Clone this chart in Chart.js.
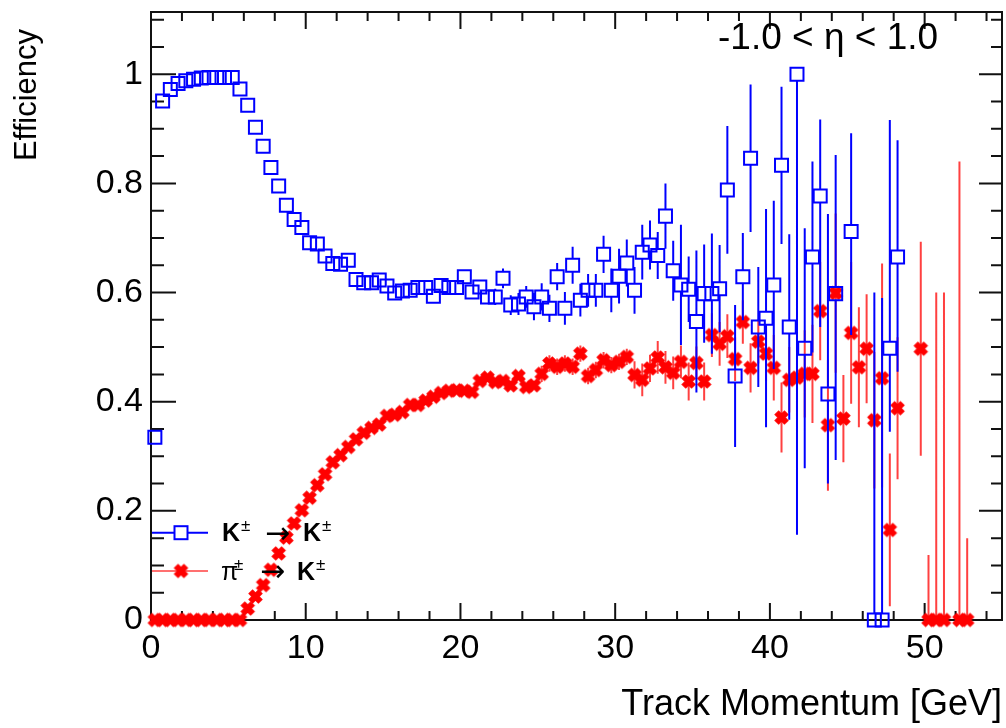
<!DOCTYPE html>
<html><head><meta charset="utf-8">
<script src="https://cdn.jsdelivr.net/npm/chart.js@4.4.0/dist/chart.umd.min.js"></script>
<style>html,body{margin:0;padding:0;background:#fff;}canvas{display:block}</style>
</head><body>
<canvas id="c" width="1006" height="728"></canvas>
<script>
// ---- data ----
const momentum = [
 0.25,0.75,1.25,1.75,2.25,2.75,3.25,3.75,4.25,4.75,
 5.25,5.75,6.25,6.75,7.25,7.75,8.25,8.75,9.25,9.75,
 10.25,10.75,11.25,11.75,12.25,12.75,13.25,13.75,14.25,14.75,
 15.25,15.75,16.25,16.75,17.25,17.75,18.25,18.75,19.25,19.75,
 20.25,20.75,21.25,21.75,22.25,22.75,23.25,23.75,24.25,24.75,
 25.25,25.75,26.25,26.75,27.25,27.75,28.25,28.75,29.25,29.75,
 30.25,30.75,31.25,31.75,32.25,32.75,33.25,33.75,34.25,34.75,
 35.25,35.75,36.25,36.75,37.25,37.75,38.25,38.75,39.25,39.75,
 40.25,40.75,41.25,41.75,42.25,42.75,43.25,43.75,44.25,44.75,
 45.25,45.75,46.25,46.75,47.25,47.75,48.25,48.75,49.25,49.75,
 50.25,50.75,51.25,51.75,52.25,52.75];

const kaonEff = [
 0.335,0.951,0.972,0.983,0.988,0.991,0.993,0.994,0.994,0.994,
 0.994,0.973,0.943,0.903,0.868,0.829,0.795,0.760,0.734,0.719,
 0.691,0.689,0.667,0.653,0.652,0.659,0.624,0.618,0.618,0.623,
 0.612,0.599,0.603,0.604,0.609,0.609,0.593,0.613,0.609,0.609,
 0.629,0.601,0.610,0.592,0.592,0.626,0.577,0.579,0.592,0.574,
 0.592,0.571,0.629,0.571,0.650,0.586,0.604,0.604,0.670,0.604,
 0.630,0.654,0.604,0.674,0.687,0.668,0.740,0.640,0.614,0.606,
 0.547,0.598,0.598,0.607,0.788,0.447,0.629,0.846,0.537,0.553,
 0.614,0.833,0.537,1.000,0.498,0.665,0.777,0.414,0.598,null,
 0.712,null,null,0,0,0.498,0.665];
const kaonErrLo = [
 0,0,0,0,0,0,0,0,0,0, 0,0,0,0,0,0,0,0,0,0, 0,0,0,0,0,0,0,0,0,0,
 0.01,0.01,0.01,0.01,0.01,0.01,0.01,0.01,0.01,0.01, 0.01,0.01,0.01,0.01,
 0.015,0.018,0.018,0.02,0.02,0.025,0.025,0.025,0.025,0.03,
 0.034,0.03,0.03,0.03,0.034,0.04,0.05,0.043,0.043,0.05,
 0.045,0.043,0.06,0.055,0.11,0.06,0.13,0.09,0.11,0.08,
 0.117,0.13,0.08,0.135,0.11,0.2,0.154,0.144,0.17,0.844,
 0.22,0.175,0.24,0.164,0.305,null,0.19,null,null,0,
 0,0.153,0.21];
const kaonErrHi = [
 0,0,0,0,0,0,0,0,0,0, 0,0,0,0,0,0,0,0,0,0, 0,0,0,0,0,0,0,0,0,0,
 0.01,0.01,0.01,0.01,0.01,0.01,0.01,0.01,0.01,0.01, 0.01,0.01,0.01,0.01,
 0.015,0.018,0.018,0.02,0.02,0.025,0.025,0.025,0.025,0.03,
 0.034,0.03,0.03,0.03,0.034,0.04,0.05,0.043,0.043,0.05,
 0.045,0.043,0.06,0.055,0.11,0.06,0.13,0.09,0.11,0.08,
 0.117,0.13,0.08,0.135,0.11,0.2,0.154,0.144,0.17,0,
 0.22,0.175,0.14,0.33,0.254,null,0.18,null,null,0.6,
 0.59,0.418,0.214];

const pionEff = [
 0,0,0,0,0,0,0,0,0,0, 0,0,
 0.021,0.043,0.064,0.092,0.122,0.151,0.177,0.201,
 0.224,0.247,0.267,0.289,0.302,0.317,0.331,0.343,0.352,0.358,
 0.374,0.376,0.381,0.394,0.394,0.402,0.409,0.416,0.420,0.421,
 0.420,0.418,0.438,0.444,0.436,0.438,0.430,0.447,0.427,0.430,
 0.451,0.470,0.464,0.470,0.464,0.488,0.447,0.458,0.476,0.467,
 0.473,0.482,0.449,0.440,0.461,0.481,0.463,0.453,0.473,0.437,
 0.471,0.437,0.522,0.506,0.520,0.478,0.546,0.462,0.510,0.488,
 0.462,0.371,0.440,0.444,0.451,0.451,0.566,0.357,0.599,0.369,
 0.526,0.463,0.497,0.366,0.443,0.165,0.388,null,null,0.497,
 0,0,0,null,0,0];
const pionErrLo = [
 0,0,0,0,0,0,0,0,0,0, 0,0,0,0,0,0,0,0,0,0, 0,0,0,0,0,0,0,0,0,0,
 0,0,0,0,0,0,0,0,0,0, 0,0,0,0,0,0,0,0,0,0,
 0.015,0.015,0.015,0.015,0.015,0.015,0.015,0.015,0.015,0.015,0.015,0.015,
 0.025,0.03,0.025,0.03,0.03,0.03,0.03,0.035,
 0.03,0.035,0.04,0.04,0.04,0.04,0.04,0.045,0.04,0.05,
 0.06,0.064,0.06,0.07,0.08,0.09,0.09,0.12,0.146,0.08,
 0.13,0.11,0.1,0.125,0.2,0.14,0.13,null,null,0.196,
 0,0,0,null,0,0];
const pionErrHi = [
 0,0,0,0,0,0,0,0,0,0, 0,0,0,0,0,0,0,0,0,0, 0,0,0,0,0,0,0,0,0,0,
 0,0,0,0,0,0,0,0,0,0, 0,0,0,0,0,0,0,0,0,0,
 0.015,0.015,0.015,0.015,0.015,0.015,0.015,0.015,0.015,0.015,0.015,0.015,
 0.025,0.03,0.025,0.03,0.03,0.03,0.03,0.035,
 0.03,0.035,0.04,0.04,0.04,0.04,0.04,0.045,0.04,0.05,
 0.06,0.064,0.06,0.07,0.08,0.09,0.09,0.12,0.146,0.08,
 0.13,0.11,0.1,0.125,0.21,0.14,0.13,null,null,0.196,
 0.119,0.6,0.6,null,0.84,0.15];

const xTickValues = [0,10,20,30,40,50];
const yTickValues = [0,0.2,0.4,0.6,0.8,1];
const yTickLabels = ['0','0.2','0.4','0.6','0.8','1'];
const xTitle = 'Track Momentum [GeV]';
const yTitle = 'Efficiency';
const etaText = '-1.0 < \u03B7 < 1.0';

// ---- styles ----
const FONT = "'Liberation Sans', Arial, Helvetica, sans-serif";
const BLUE = '#0000ff';
const RED = '#ff0000';

function makeCross(size, color){
  const c = document.createElement('canvas');
  c.width = size; c.height = size;
  const g = c.getContext('2d');
  g.strokeStyle = color; g.lineWidth = size*0.37; g.lineCap = 'butt';
  const p = size*0.2;
  g.beginPath();
  g.moveTo(p,p); g.lineTo(size-p,size-p);
  g.moveTo(size-p,p); g.lineTo(p,size-p);
  g.stroke();
  return c;
}
const crossImg = makeCross(17, RED);

function toPoints(vals){
  const pts = [];
  vals.forEach((v,i)=>{ if (v !== null) pts.push({x: momentum[i], y: v, i: i}); });
  return pts;
}

const errorSets = [
  {lo: kaonErrLo, hi: kaonErrHi, color: BLUE, width: 2, gap: 6.5},
  {lo: pionErrLo, hi: pionErrHi, color: 'rgba(255,0,0,0.75)', width: 2, gap: 0}
];

const errorBars = {
  id: 'errorBars',
  beforeDatasetDraw(chart, args){
    const es = errorSets[args.index];
    const ds = chart.data.datasets[args.index];
    const xs = chart.scales.x, ys = chart.scales.y;
    const ctx = chart.ctx;
    ctx.save();
    ctx.strokeStyle = es.color; ctx.lineWidth = es.width;
    ctx.beginPath();
    ds.data.forEach(p=>{
      const lo = es.lo[p.i], hi = es.hi[p.i];
      if (lo == null && hi == null) return;
      const px = xs.getPixelForValue(p.x);
      const py = ys.getPixelForValue(p.y);
      const yl = ys.getPixelForValue(p.y - (lo||0));
      const yh = ys.getPixelForValue(p.y + (hi||0));
      if (yl - py > es.gap) { ctx.moveTo(px, py + es.gap); ctx.lineTo(px, yl); }
      if (py - yh > es.gap) { ctx.moveTo(px, py - es.gap); ctx.lineTo(px, yh); }
    });
    ctx.stroke();
    ctx.restore();
  }
};

const rootFrame = {
  id: 'rootFrame',
  beforeDatasetsDraw(chart){
    const {ctx, chartArea: a} = chart;
    const xs = chart.scales.x, ys = chart.scales.y;
    ctx.save();
    ctx.strokeStyle = '#111';
    ctx.lineWidth = 2;
    ctx.strokeRect(a.left, a.top, a.right - a.left, a.bottom - a.top);
    ctx.beginPath();
    for (let s = 0; s <= 27; s++) {
      const v = s*2;
      const px = xs.getPixelForValue(v);
      const L = (v % 10 === 0) ? 17 : 9;
      ctx.moveTo(px, a.bottom); ctx.lineTo(px, a.bottom - L);
      ctx.moveTo(px, a.top); ctx.lineTo(px, a.top + L);
    }
    for (let s = 0; s <= 22; s++) {
      const v = s*0.05;
      const py = ys.getPixelForValue(v);
      const major = (s % 4 === 0);
      const L = major ? 25 : 13;
      const R = major ? 23 : 11;
      ctx.moveTo(a.left, py); ctx.lineTo(a.left + L, py);
      ctx.moveTo(a.right, py); ctx.lineTo(a.right - R, py);
    }
    ctx.stroke();
    ctx.restore();
  },
  afterDraw(chart){
    const ctx = chart.ctx;
    ctx.save();
    ctx.fillStyle = '#000';
    // y title
    ctx.save();
    ctx.translate(27, 29);
    ctx.rotate(-Math.PI/2);
    ctx.font = '31px ' + FONT;
    ctx.textAlign = 'right';
    ctx.textBaseline = 'middle';
    ctx.fillText(yTitle, 0, 0);
    ctx.restore();
    // eta label
    ctx.font = '37px ' + FONT;
    ctx.textAlign = 'left';
    ctx.textBaseline = 'alphabetic';
    ctx.fillText(etaText, 718, 49);

    // legend
    const lx0 = 152, lx1 = 208, mx = 181;
    const r1 = 532.7, r2 = 571;
    ctx.strokeStyle = BLUE; ctx.lineWidth = 2;
    ctx.beginPath(); ctx.moveTo(lx0, r1); ctx.lineTo(mx-6.5, r1); ctx.moveTo(mx+6.5, r1); ctx.lineTo(lx1, r1); ctx.stroke();
    ctx.strokeRect(mx-6.5, r1-6.5, 13, 13);
    ctx.strokeStyle = 'rgba(255,0,0,0.75)'; ctx.lineWidth = 1.5;
    ctx.beginPath(); ctx.moveTo(lx0, r2); ctx.lineTo(lx1, r2); ctx.stroke();
    ctx.drawImage(crossImg, mx - crossImg.width/2, r2 - crossImg.height/2);

    ctx.fillStyle = '#000';
    ctx.textAlign = 'left';
    ctx.textBaseline = 'alphabetic';
    const bold = 'bold 25px ' + FONT, sup = '17px ' + FONT, arr = '30px DejaVu Sans', norm = '25px ' + FONT;
    // row 1: K± → K±
    ctx.font = bold; ctx.fillText('K', 222, 541);
    ctx.font = sup; ctx.fillText('\u00B1', 241, 531);
    ctx.font = arr; ctx.fillText('\u2192', 265, 543);
    ctx.font = bold; ctx.fillText('K', 303, 541);
    ctx.font = sup; ctx.fillText('\u00B1', 322, 531);
    // row 2: π± → K±
    ctx.font = norm; ctx.fillText('\u03C0', 221, 580);
    ctx.font = sup; ctx.fillText('\u00B1', 234, 570);
    ctx.font = arr; ctx.fillText('\u2192', 260, 581);
    ctx.font = bold; ctx.fillText('K', 297, 580);
    ctx.font = sup; ctx.fillText('\u00B1', 316, 570);
    ctx.restore();
  }
};

function zeroPad(s){ s.paddingLeft = 0; s.paddingRight = 0; s.paddingTop = 0; s.paddingBottom = 0; }

new Chart(document.getElementById('c'), {
  type: 'scatter',
  data: {
    datasets: [
      {
        label: 'K\u00B1 \u2192 K\u00B1',
        data: toPoints(kaonEff),
        pointStyle: 'rect',
        pointRadius: 9.2,
        pointHoverRadius: 9.2,
        pointBorderWidth: 2,
        borderColor: BLUE,
        backgroundColor: 'rgba(0,0,0,0)',
        showLine: false,
        clip: false
      },
      {
        label: '\u03C0\u00B1 \u2192 K\u00B1',
        data: toPoints(pionEff),
        pointStyle: crossImg,
        pointRadius: 8,
        borderColor: RED,
        backgroundColor: RED,
        showLine: false,
        clip: false
      }
    ]
  },
  options: {
    responsive: false,
    animation: false,
    devicePixelRatio: 1,
    events: [],
    layout: {autoPadding: false, padding: {left: 0, right: 4, top: 12, bottom: 0}},
    plugins: {legend: {display: false}, tooltip: {enabled: false}},
    scales: {
      x: {
        type: 'linear', min: 0, max: 55,
        afterFit(s){ s.height = 108; zeroPad(s); },
        afterBuildTicks(s){ s.ticks = xTickValues.map(v=>({value: v})); },
        grid: {display: false, drawTicks: false}, border: {display: false},
        ticks: {font: {family: FONT, size: 34}, color: '#000', padding: 8, maxRotation: 0, autoSkip: false,
                callback: v => String(v)},
        title: {display: true, text: xTitle, align: 'end', color: '#000',
                font: {family: FONT, size: 36, lineHeight: 1.2}, padding: {top: 0, bottom: 1}}
      },
      y: {
        type: 'linear', min: 0, max: 1.114,
        afterFit(s){ s.width = 151; zeroPad(s); },
        afterBuildTicks(s){ s.ticks = yTickValues.map(v=>({value: v})); },
        grid: {display: false, drawTicks: false}, border: {display: false},
        ticks: {font: {family: FONT, size: 34}, color: '#000', padding: 8, autoSkip: false,
                callback: (v) => { const k = yTickValues.indexOf(v); return k >= 0 ? yTickLabels[k] : ''; }}
      }
    }
  },
  plugins: [errorBars, rootFrame]
});
</script>
</body></html>
